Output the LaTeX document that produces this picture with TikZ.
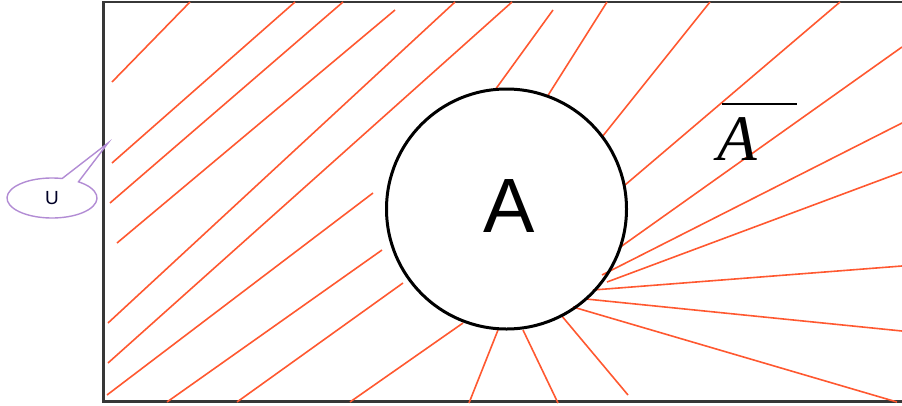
\documentclass[tikz,border=0pt]{standalone}
\usepackage{fontspec}
\setmainfont{Liberation Serif}
\newfontfamily\sansA{Liberation Sans}
\usetikzlibrary{calc}
\definecolor{hatch}{RGB}{255,88,48}
\definecolor{frameC}{RGB}{55,55,55}
\definecolor{callC}{RGB}{178,140,212}
\tikzset{
  hatchline/.style={draw=hatch,line width=1.6pt},
  frameline/.style={draw=frameC,line width=2.4pt},
  setcircle/.style={circle,draw=black,line width=3pt,minimum size=240pt,inner sep=0pt},
  calloutline/.style={draw=callC,line width=1.4pt,fill=white},
}
\begin{document}
\begin{tikzpicture}[x=1pt,y=-1pt]
\useasboundingbox (0,0) rectangle (902,405);
% universe frame (right side runs off the picture)
\draw[frameline] (906,2.2) -- (103.5,2.2) -- (103.5,401.5) -- (906,401.5);
% hatch lines
\foreach \a/\b/\c/\d in {
  112/82/190/2, 112/163/295/2, 110/203/343/2, 117/243/395/10,
  108/323/455/2, 108/363/512/2, 107/395/373/193, 167/402/382/250,
  237/402/403/283, 350/402/463/323, 495/90/553/10, 547/97/607/2,
  602/137/710/2, 625/185/840/2, 619/248/902/47, 602/275/902/123,
  607/282/902/172, 593/290/902/266, 586/299/902/331, 573/307/897/402,
  561/315/628/395, 523/330/558/403, 498/330/469/403}
  {\draw[hatchline] (\a,\b) -- (\c,\d);}
% set A
\node[setcircle] (setA) at (506.5,209) {};
\node[font=\sansA\fontsize{77}{80}\selectfont,inner sep=0pt] (labelA) at (509,206) {A};
% complement label
\node[font=\fontsize{65}{70}\selectfont\itshape,inner sep=0pt] (labelAbar) at (737,139) {A};
\draw[line width=1.5pt] ($(labelAbar.center)+(-15,-35)$) coordinate (barL) -- ($(labelAbar.center)+(60,-35)$) coordinate (barR);
% callout U
\coordinate (uc) at (52,198);
\coordinate (utip) at (108,143);
\draw[calloutline] (utip) -- ($(uc)+(-54:45 and 20)$) arc[start angle=-54,end angle=283,x radius=45,y radius=20] -- cycle;
\node[font=\sansA\fontsize{19}{20}\selectfont,inner sep=0pt,text=black!85!blue] (labelU) at (uc) {U};
\end{tikzpicture}
\end{document}
